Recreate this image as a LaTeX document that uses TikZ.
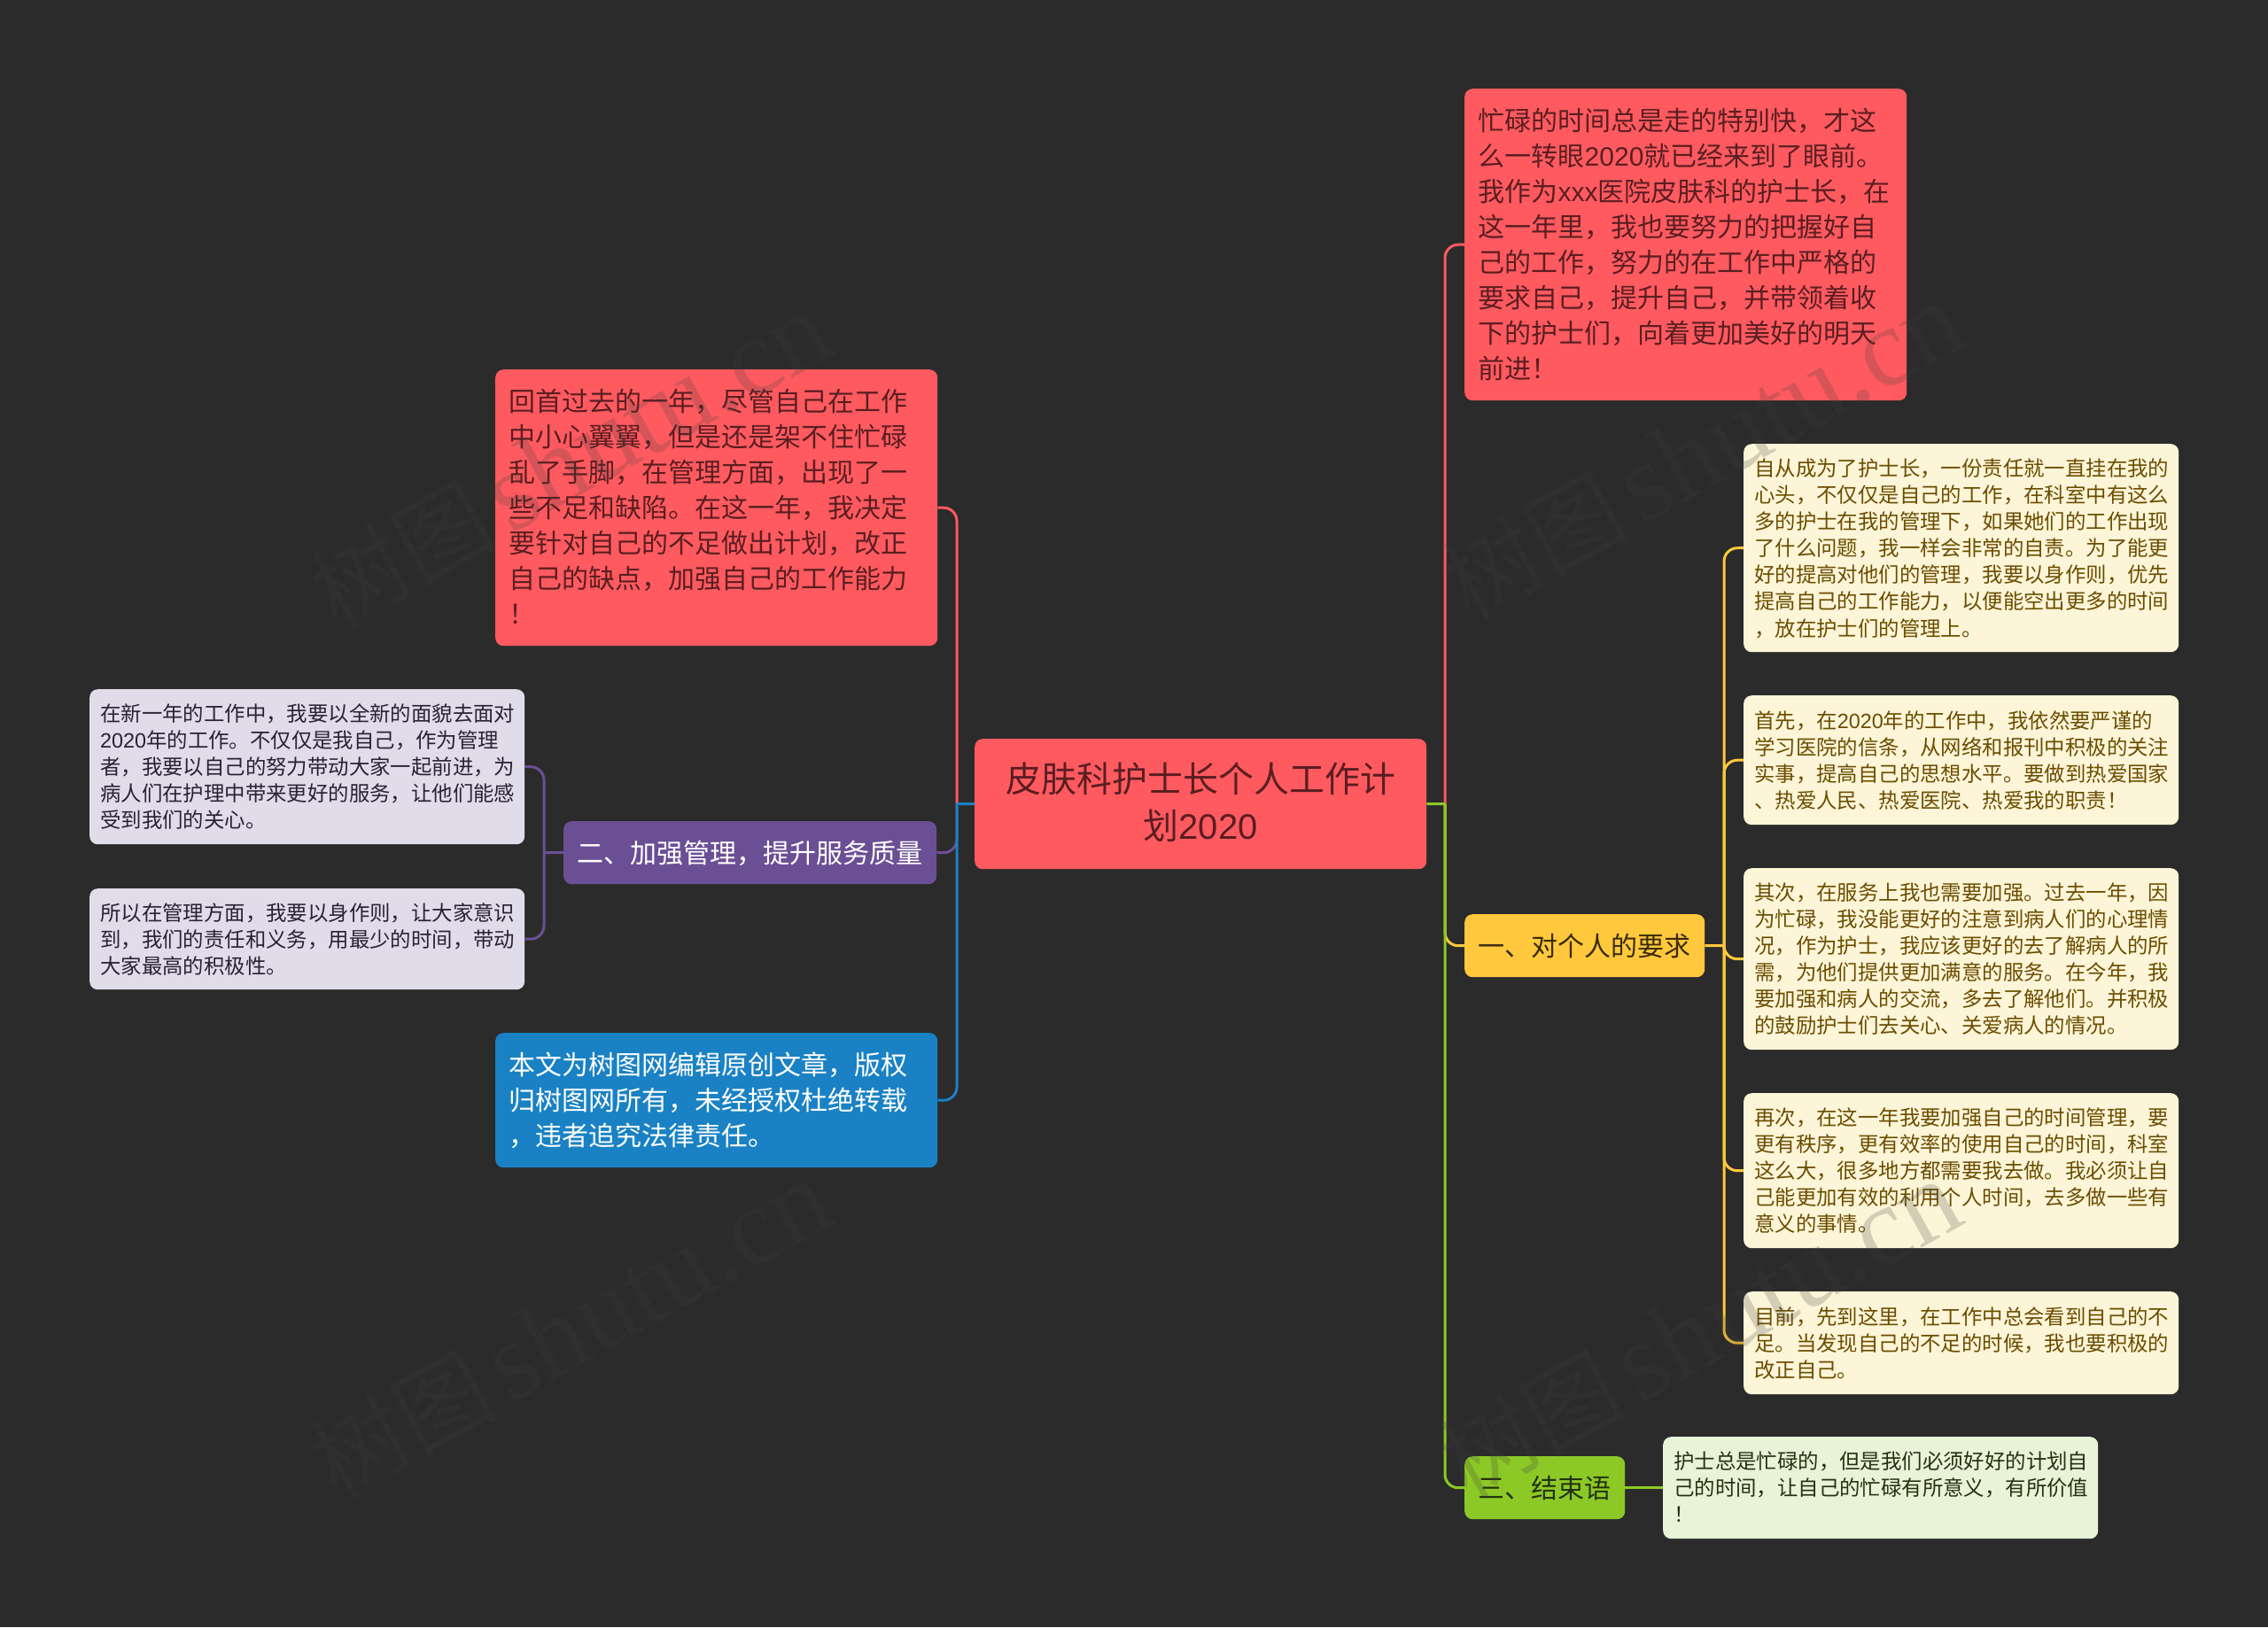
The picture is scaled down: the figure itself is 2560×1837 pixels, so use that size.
\documentclass[tikz,border=0pt]{standalone}
\usepackage{fontspec}
\setmainfont{Noto Sans CJK SC}
\newfontfamily\wmserif{Liberation Serif}
\newfontfamily\lat{Liberation Sans}
\newcommand\fbig{\fontsize{30}{40}\selectfont}
\newcommand\fsmall{\fontsize{23.4}{30.1}\selectfont}
\newcommand\ftitle{\fontsize{40}{53}\selectfont}
\definecolor{bgc}{HTML}{2B2B2B}
\definecolor{redc}{HTML}{FF5A5F}
\definecolor{yelc}{HTML}{FFC83D}
\definecolor{purc}{HTML}{6B4F95}
\definecolor{bluc}{HTML}{1A82C4}
\definecolor{grnc}{HTML}{8CC926}
\definecolor{pyel}{HTML}{FDF5D8}
\definecolor{plav}{HTML}{E1DCE9}
\definecolor{pgrn}{HTML}{E8F3D8}
\definecolor{tred}{HTML}{5A1E22}
\definecolor{tyel}{HTML}{6B4D00}
\definecolor{tyel2}{HTML}{3A2C08}
\definecolor{tlav}{HTML}{2A2136}
\definecolor{tgrn}{HTML}{24320E}
\definecolor{wmc}{HTML}{404040}
\tikzset{
  nodebox/.style={rounded corners=9pt,inner ysep=0pt,inner xsep=0pt,anchor=north west,align=left,draw=none},
  strutbig/.style={execute at begin node={\rule{0pt}{32pt}},execute at end node={\rule[-9pt]{0pt}{0pt}}},
  strutsmall/.style={execute at begin node={\rule{0pt}{25pt}},execute at end node={\rule[-7pt]{0pt}{0pt}}},
  struttitle/.style={execute at begin node={\rule{0pt}{40pt}},execute at end node={\rule[-14pt]{0pt}{0pt}}},
  bigbox/.style={nodebox,strutbig,font=\fbig,inner xsep=15.5pt,text width=468pt},
  smallbox/.style={nodebox,strutsmall,font=\fsmall,inner xsep=12pt,text width=467pt},
  onebox/.style={nodebox,align=center},
  link/.style={line width=3pt,rounded corners=15pt},
  wmark/.style={opacity=.22,text=wmc,rotate=29,inner sep=0pt}
}
\newcommand\wmtext{{\fontsize{105}{105}\selectfont 树图}\hspace{14pt}{\wmserif\fontsize{126}{126}\selectfont shutu.cn}}
\begin{document}
\begin{tikzpicture}[x=1pt,y=-1pt]
\fill[bgc] (0,0) rectangle (2560,1837);
\useasboundingbox (0,0) rectangle (2560,1837);
% nodes
\node[onebox,struttitle,fill=redc,text=tred,font=\ftitle,text width=510pt,minimum height=147pt] (c) at (1100,834) {皮肤科护士长个人工作计\\划{\lat 2020}};
\node[bigbox,fill=redc,text=tred,minimum height=352pt] (r1) at (1653,100) {忙碌的时间总是走的特别快，才这\\么一转眼{\lat 2020}就已经来到了眼前。\\我作为{\lat xxx}医院皮肤科的护士长，在\\这一年里，我也要努力的把握好自\\己的工作，努力的在工作中严格的\\要求自己，提升自己，并带领着收\\下的护士们，向着更加美好的明天\\前进！};
\node[onebox,strutbig,fill=yelc,text=tyel2,font=\fbig,text width=271pt,minimum height=71pt] (y) at (1653,1032) {一、对个人的要求};
\node[smallbox,fill=pyel,text=tyel,minimum height=235pt] (y1) at (1968,501) {自从成为了护士长，一份责任就一直挂在我的\\心头，不仅仅是自己的工作，在科室中有这么\\多的护士在我的管理下，如果她们的工作出现\\了什么问题，我一样会非常的自责。为了能更\\好的提高对他们的管理，我要以身作则，优先\\提高自己的工作能力，以便能空出更多的时间\\，放在护士们的管理上。};
\node[smallbox,fill=pyel,text=tyel,minimum height=146pt] (y2) at (1968,785) {首先，在{\lat 2020}年的工作中，我依然要严谨的\\学习医院的信条，从网络和报刊中积极的关注\\实事，提高自己的思想水平。要做到热爱国家\\、热爱人民、热爱医院、热爱我的职责！};
\node[smallbox,fill=pyel,text=tyel,minimum height=205pt] (y3) at (1968,980) {其次，在服务上我也需要加强。过去一年，因\\为忙碌，我没能更好的注意到病人们的心理情\\况，作为护士，我应该更好的去了解病人的所\\需，为他们提供更加满意的服务。在今年，我\\要加强和病人的交流，多去了解他们。并积极\\的鼓励护士们去关心、关爱病人的情况。};
\node[smallbox,fill=pyel,text=tyel,minimum height=175pt] (y4) at (1968,1234) {再次，在这一年我要加强自己的时间管理，要\\更有秩序，更有效率的使用自己的时间，科室\\这么大，很多地方都需要我去做。我必须让自\\己能更加有效的利用个人时间，去多做一些有\\意义的事情。};
\node[smallbox,fill=pyel,text=tyel,minimum height=116pt] (y5) at (1968,1458) {目前，先到这里，在工作中总会看到自己的不\\足。当发现自己的不足的时候，我也要积极的\\改正自己。};
\node[onebox,strutbig,fill=grnc,text=tgrn,font=\fbig,text width=181pt,minimum height=71pt] (g) at (1653,1644) {三、结束语};
\node[smallbox,fill=pgrn,text=tgrn,minimum height=115pt] (g1) at (1877,1622) {护士总是忙碌的，但是我们必须好好的计划自\\己的时间，让自己的忙碌有所意义，有所价值\\！};
\node[bigbox,fill=redc,text=tred,minimum height=312pt] (r2) at (559,417) {回首过去的一年，尽管自己在工作\\中小心翼翼，但是还是架不住忙碌\\乱了手脚，在管理方面，出现了一\\些不足和缺陷。在这一年，我决定\\要针对自己的不足做出计划，改正\\自己的缺点，加强自己的工作能力\\！};
\node[onebox,strutbig,fill=purc,text=white,font=\fbig,text width=421pt,minimum height=71pt] (p) at (636,927) {二、加强管理，提升服务质量};
\node[smallbox,fill=plav,text=tlav,minimum height=175pt] (l1) at (101,778) {在新一年的工作中，我要以全新的面貌去面对\\{\lat 2020}年的工作。不仅仅是我自己，作为管理\\者，我要以自己的努力带动大家一起前进，为\\病人们在护理中带来更好的服务，让他们能感\\受到我们的关心。};
\node[smallbox,fill=plav,text=tlav,minimum height=114pt] (l2) at (101,1003) {所以在管理方面，我要以身作则，让大家意识\\到，我们的责任和义务，用最少的时间，带动\\大家最高的积极性。};
\node[bigbox,fill=bluc,text=white,minimum height=152pt] (b) at (559,1166) {本文为树图网编辑原创文章，版权\\归树图网所有，未经授权杜绝转载\\，违者追究法律责任。};
% junctions
\coordinate (tr) at (1631,907.5);
\coordinate (tl) at (1080,907.5);
\coordinate (ty) at (1946,1067.5);
\coordinate (tp) at (614,962.5);
% right side
\draw[link,redc] (tr) |- (r1.west);
\draw[link,yelc] (tr) |- (y.west);
\draw[link,grnc] (tr) |- (g.west);
\draw[line width=3pt,grnc] (c.east) -- (tr);
% left side
\draw[link,redc] (tl) |- (r2.east);
\draw[link,purc] (tl) |- (p.east);
\draw[link,bluc] (tl) |- (b.east);
\draw[line width=3pt,bluc] (c.west) -- (tl);
% yellow branch
\draw[line width=3pt,yelc] (y.east) -- (ty);
\draw[link,yelc] (ty) |- (y1.west);
\draw[link,yelc] (ty) |- (y2.west);
\draw[link,yelc] (ty) |- (y3.west);
\draw[link,yelc] (ty) |- (y4.west);
\draw[link,yelc] (ty) |- (y5.west);
% green branch
\draw[line width=3pt,grnc] (g.east) -- (g1.west);
% purple branch
\draw[line width=3pt,purc] (p.west) -- (tp);
\draw[link,purc] (tp) |- (l1.east);
\draw[link,purc] (tp) |- (l2.east);
% watermarks
\node[wmark] (w1) at (644,520) {\wmtext};
\node[wmark] (w2) at (644,1502) {\wmtext};
\node[wmark] (w3) at (1922,510) {\wmtext};
\node[wmark] (w4) at (1919,1502) {\wmtext};
\end{tikzpicture}
\end{document}
